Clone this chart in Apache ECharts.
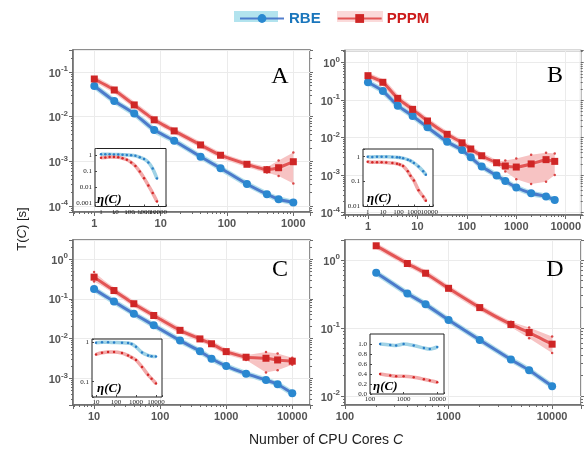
<!DOCTYPE html>
<html><head><meta charset="utf-8">
<script src="https://cdn.jsdelivr.net/npm/echarts@6/dist/echarts.min.js"></script>
<style>html,body{margin:0;padding:0;background:#fff}#c{width:584px;height:452px}</style>
</head><body><div id="c"></div>
<script>
// ---------- Panel A ----------
const A_cores = [1,2,4,8,16,40,80,200,400,600,1000];
const A_rbe   = [0.0487,0.0224,0.0117,0.0050,0.0029,0.00127,0.00070,0.000312,0.000184,0.000142,0.000120];
const A_pppm  = [0.0697,0.0395,0.0183,0.0085,0.0048,0.00233,0.00137,0.00086,0.00065,0.00072,0.00098];
const A_pppmLo= [0.066,0.0375,0.0174,0.0081,0.00456,0.00222,0.0013,0.00081,0.00056,0.00047,0.00032];
const A_pppmHi= [0.073,0.0415,0.0192,0.0089,0.00504,0.00245,0.00144,0.00091,0.00074,0.00105,0.00157];
const A_etaCores = [1,2,4,8,16,32,64,128,256,512,1024,2048,4096,8192];
const A_etaRbe   = [1.1,1.1,1.1,1.08,1.07,1.05,1.0,0.96,0.88,0.72,0.55,0.34,0.14,0.033];
const A_etaPppm  = [0.68,0.70,0.74,0.75,0.72,0.62,0.50,0.34,0.20,0.09,0.035,0.012,0.004,0.0012];
// ---------- Panel B ----------
const B_cores = [1,2,4,8,16,40,80,120,200,400,600,1000,2000,4000,6000];
const B_rbe   = [0.30,0.176,0.0713,0.038,0.019,0.0078,0.0047,0.0030,0.0017,0.00098,0.00070,0.00047,0.00033,0.00027,0.00022];
const B_rbeLo = [0.29,0.17,0.069,0.037,0.0184,0.0076,0.00455,0.0029,0.00165,0.00095,0.00068,0.00045,0.00031,0.00024,0.00019];
const B_rbeHi = [0.31,0.182,0.0736,0.039,0.0196,0.0080,0.00485,0.0031,0.00175,0.00101,0.00072,0.00049,0.00035,0.00031,0.00026];
const B_pppm  = [0.45,0.30,0.112,0.057,0.0279,0.0123,0.0073,0.0050,0.0033,0.00215,0.00176,0.00165,0.0020,0.0026,0.00234];
const B_pppmLo= [0.43,0.285,0.106,0.054,0.0265,0.0117,0.0069,0.00475,0.00314,0.0019,0.00125,0.00078,0.00058,0.00067,0.00102];
const B_pppmHi= [0.47,0.315,0.118,0.060,0.0293,0.0129,0.0077,0.00525,0.00347,0.0023,0.00245,0.0028,0.0035,0.0040,0.0038];
const B_etaRbe  = [1.0,0.98,1.0,1.0,0.99,0.98,0.95,0.92,0.87,0.76,0.68,0.56,0.40,0.26,0.19];
const B_etaPppm = [0.63,0.60,0.60,0.60,0.58,0.56,0.52,0.48,0.42,0.26,0.17,0.11,0.045,0.025,0.017];
// ---------- Panel C ----------
const C_cores = [10,20,40,80,200,400,600,1000,2000,4000,6000,10000];
const C_rbe   = [0.175,0.085,0.042,0.0215,0.0089,0.0048,0.0031,0.00204,0.00131,0.00091,0.00071,0.00042];
const C_pppm  = [0.35,0.161,0.075,0.038,0.0161,0.0098,0.0074,0.0047,0.0034,0.0032,0.0029,0.0027];
const C_pppmLo= [0.27,0.145,0.071,0.036,0.0153,0.0093,0.0070,0.0044,0.0029,0.0014,0.0016,0.0022];
const C_pppmHi= [0.47,0.178,0.079,0.040,0.0169,0.0103,0.0078,0.0050,0.0038,0.0046,0.0042,0.0033];
const C_etaRbe  = [1.0,1.02,1.02,1.01,1.0,0.98,0.93,0.78,0.56,0.47,0.45,0.44];
const C_etaPppm = [0.50,0.55,0.58,0.58,0.54,0.47,0.42,0.36,0.24,0.15,0.12,0.09];
// ---------- Panel D ----------
const D_cores = [200,400,600,1000,2000,4000,6000,10000];
const D_rbe   = [0.65,0.323,0.223,0.131,0.067,0.0345,0.024,0.0140];
const D_pppm  = [1.62,0.89,0.64,0.384,0.20,0.113,0.086,0.058];
const D_pppmLo= [1.56,0.86,0.62,0.37,0.193,0.104,0.071,0.043];
const D_pppmHi= [1.68,0.92,0.66,0.40,0.207,0.124,0.102,0.075];
const D_etaRbe  = [1.0,0.98,0.97,1.0,0.97,0.92,0.90,0.94];
const D_etaPppm = [0.40,0.37,0.356,0.356,0.336,0.296,0.268,0.235];
// ---------- tick labels / texts ----------
const panelLetters = ['A','B','C','D'];
const legendNames = ['RBE','PPPM'];
const yAxisTitle = 'T({i|C}) [s]';
const xAxisTitle = 'Number of CPU Cores {i|C}';
const etaLabel = '\u03b7(C)';

const COL = {
  rbeLine:'#4070c8', rbeMark:'#2a88d0', rbeHalo:'#b4e0ec', rbeDot:'#1f50c8',
  pLine:'#e04848', pMark:'#cf2626', pHalo:'#f8cccc', pBand:'#f7c3c3', pDot:'#d21f1f'
};

const panels = [
  {cores:A_cores, rbe:A_rbe, pppm:A_pppm, lo:A_pppmLo, hi:A_pppmHi,
   x:[0.4775,1784], y:[7.35e-5,0.3105], grid:{left:73,top:50,width:237,height:162},
   letter:[280,77],
   eta:{cores:A_etaCores, rbe:A_etaRbe, pppm:A_etaPppm, x:[0.38,35000], y:[5.75e-4,2.56], log:true,
        grid:{left:95,top:148.5,width:71,height:58}, txt:[97,200]}},
  {cores:B_cores, rbe:B_rbe, pppm:B_pppm, lo:B_pppmLo, hi:B_pppmHi, rlo:B_rbeLo, rhi:B_rbeHi,
   x:[0.343,20100], y:[8.7e-5,2.11], grid:{left:345,top:50.5,width:236,height:164.5},
   letter:[555,76],
   eta:{cores:B_cores, rbe:B_etaRbe, pppm:B_etaPppm, x:[0.495,17400], y:[0.01,2.03], log:true,
        grid:{left:363,top:149,width:70,height:57.5}, txt:[367,199]}},
  {cores:C_cores, rbe:C_rbe, pppm:C_pppm, lo:C_pppmLo, hi:C_pppmHi,
   x:[4.8,18550], y:[2.14e-4,3.0], grid:{left:73,top:240,width:237,height:165},
   letter:[280,270],
   eta:{cores:C_cores, rbe:C_etaRbe, pppm:C_etaPppm, x:[6.3,20000], y:[0.0407,1.24], log:true,
        grid:{left:92,top:339,width:70,height:58}, txt:[97,389]}},
  {cores:D_cores, rbe:D_rbe, pppm:D_pppm, lo:D_pppmLo, hi:D_pppmHi,
   x:[100,19000], y:[0.0074,1.97], grid:{left:345,top:240,width:236,height:165},
   letter:[555,270],
   eta:{cores:D_cores, rbe:D_etaRbe, pppm:D_etaPppm, x:[100,15900], y:[0,1.2], log:false,
        grid:{left:370,top:334,width:74,height:60}, txt:[373,387]}}
];

function isPow10(v){ if(!(v>0)) return false; const e=Math.log10(v); return Math.abs(e-Math.round(e))<1e-6; }
function zip(a,b){ return a.map((v,k)=>[v,b[k]]); }

const labelMain = {fontFamily:'Liberation Sans', fontWeight:'bold', fontSize:11, color:'#555'};
const frameCol = '#6a6a6a';

const grids=[], xAxes=[], yAxes=[], series=[], graphics=[];

panels.forEach((p,i)=>{
  grids.push(Object.assign({show:true, borderColor:frameCol, borderWidth:1.5, backgroundColor:'transparent', z:0}, p.grid));
  xAxes.push({gridIndex:i, type:'log', logBase:10, min:p.x[0], max:p.x[1],
    axisLine:{show:true, lineStyle:{color:frameCol, width:1.5}},
    axisTick:{show:true, inside:false, length:4, lineStyle:{color:frameCol}},
    minorTick:{show:true, splitNumber:9, length:2, lineStyle:{color:frameCol}},
    axisLabel:Object.assign({margin:6, formatter:v=>isPow10(v)?String(Math.round(v)):''}, labelMain),
    splitLine:{show:true, lineStyle:{color:'#ebebeb', width:1}}});
  yAxes.push({gridIndex:i, type:'log', logBase:10, min:p.y[0], max:p.y[1], position:'left',
    axisLine:{show:true, lineStyle:{color:frameCol, width:1.5}},
    axisTick:{show:true, inside:false, length:4, lineStyle:{color:frameCol}},
    minorTick:{show:true, splitNumber:9, length:2, lineStyle:{color:frameCol}},
    axisLabel:{margin:5, formatter:v=>isPow10(v)?('{b|10}{s|'+Math.round(Math.log10(v))+'}'):'',
      rich:{b:Object.assign({lineHeight:14, verticalAlign:'bottom'}, labelMain),
            s:Object.assign({}, labelMain, {fontSize:8, lineHeight:8, verticalAlign:'top'})}},
    splitLine:{show:true, lineStyle:{color:'#ebebeb', width:1}}});
  yAxes.push({gridIndex:i, type:'log', logBase:10, min:p.y[0], max:p.y[1], position:'right',
    axisLine:{show:false}, axisLabel:{show:false}, splitLine:{show:false},
    axisTick:{show:true, inside:false, length:3, lineStyle:{color:frameCol}},
    minorTick:{show:true, splitNumber:9, length:2, lineStyle:{color:frameCol}}});
});

panels.forEach((p,i)=>{
  const e=p.eta, gi=4+i;
  grids.push(Object.assign({show:true, borderColor:'#222', borderWidth:1, backgroundColor:'#fff', z:3}, e.grid));
  const il = {fontFamily:'Liberation Serif', fontSize:7, color:'#222'};
  xAxes.push({gridIndex:gi, type:'log', logBase:10, min:e.x[0], max:e.x[1], z:3,
    axisLine:{show:false}, axisTick:{show:true, inside:true, length:2, lineStyle:{color:'#444'}},
    axisLabel:Object.assign({margin:2, formatter:v=>isPow10(v)?String(Math.round(v)):''}, il),
    splitLine:{show:false}});
  if(e.log){
    yAxes.push({gridIndex:gi, type:'log', logBase:10, min:e.y[0], max:e.y[1], z:3,
      axisLine:{show:false}, axisTick:{show:true, inside:true, length:2, lineStyle:{color:'#444'}},
      axisLabel:Object.assign({margin:3, formatter:v=>isPow10(v)?(v>=1?String(Math.round(v)):String(+v.toPrecision(1))):''}, il),
      splitLine:{show:false}});
  } else {
    yAxes.push({gridIndex:gi, type:'value', min:e.y[0], max:e.y[1], interval:0.2, z:3,
      axisLine:{show:false}, axisTick:{show:true, inside:true, length:2, lineStyle:{color:'#444'}},
      axisLabel:Object.assign({margin:3, showMaxLabel:false, formatter:v=>v.toFixed(1)}, il),
      splitLine:{show:false}});
  }
});

function bandSeries(xi, yi, cores, lo, hi, color, z){
  return {type:'custom', xAxisIndex:xi, yAxisIndex:yi, z:z, silent:true, data:[[cores[0], lo[0]]],
    renderItem:(params, api)=>{
      const up = hi.map((v,k)=>api.coord([cores[k], v]));
      const dn = lo.map((v,k)=>api.coord([cores[k], v])).reverse();
      return {type:'polygon', shape:{points:up.concat(dn)}, style:{fill:color}};
    }};
}

panels.forEach((p,i)=>{
  const xi=i, yi=2*i;
  series.push(bandSeries(xi, yi, p.cores, p.lo, p.hi, COL.pBand, 1));
  if(p.rlo) series.push(bandSeries(xi, yi, p.cores, p.rlo, p.rhi, COL.rbeHalo, 1));
  series.push({name:'RBE', type:'line', xAxisIndex:xi, yAxisIndex:yi, data:zip(p.cores,p.rbe), z:4,
    smooth:0.15, symbol:'circle', symbolSize:8,
    lineStyle:{color:COL.rbeLine, width:3, opacity:0.9}, itemStyle:{color:COL.rbeMark}});
  series.push({name:'PPPM', type:'line', xAxisIndex:xi, yAxisIndex:yi, data:zip(p.cores,p.pppm), z:4,
    smooth:0.15, symbol:'rect', symbolSize:7,
    lineStyle:{color:COL.pLine, width:3, opacity:0.9}, itemStyle:{color:COL.pMark}});
  series.push({name:'rbe-halo', type:'line', xAxisIndex:xi, yAxisIndex:yi, data:zip(p.cores,p.rbe), z:2,
    smooth:0.15, symbol:'none', lineStyle:{color:COL.rbeHalo, width:5.5}, silent:true});
  series.push({name:'pppm-halo', type:'line', xAxisIndex:xi, yAxisIndex:yi, data:zip(p.cores,p.pppm), z:2,
    smooth:0.15, symbol:'none', lineStyle:{color:COL.pHalo, width:5.5}, silent:true});
  series.push({name:'pppm-edges', type:'scatter', xAxisIndex:xi, yAxisIndex:yi, z:3, symbolSize:2.5,
    data:zip(p.cores,p.lo).concat(zip(p.cores,p.hi)), itemStyle:{color:COL.pDot}, silent:true});
  // inset
  const e=p.eta, gx=4+i, gy=8+i;
  series.push({name:'eta-rbe', type:'line', xAxisIndex:gx, yAxisIndex:gy, data:zip(e.cores,e.rbe), z:5,
    smooth:0.3, symbol:'circle', symbolSize:2.5, lineStyle:{color:'#9fd2e6', width:3.5},
    itemStyle:{color:'#2a7fc8'}, silent:true});
  series.push({name:'eta-pppm', type:'line', xAxisIndex:gx, yAxisIndex:gy, data:zip(e.cores,e.pppm), z:5,
    smooth:0.3, symbol:'circle', symbolSize:2.5, lineStyle:{color:'#f2a9a9', width:3.5},
    itemStyle:{color:'#d42727'}, silent:true});
  graphics.push({type:'text', x:p.letter[0], y:p.letter[1], z:10,
    style:{text:panelLetters[i], fontFamily:'Liberation Serif', fontSize:24, fill:'#000', align:'center', verticalAlign:'middle'}});
  graphics.push({type:'text', x:e.txt[0], y:e.txt[1], z:10,
    style:{text:etaLabel, fontFamily:'Liberation Serif', fontWeight:'bold', fontStyle:'italic', fontSize:13, fill:'#000', align:'left', verticalAlign:'middle'}});
});

// legend backgrounds
graphics.push({type:'rect', shape:{x:234, y:11, width:44, height:11}, style:{fill:'#b2e3ee'}, z:-1});
graphics.push({type:'rect', shape:{x:337, y:11, width:46, height:11}, style:{fill:'#fbdada'}, z:-1});
// axis titles
graphics.push({type:'text', x:22, y:229, rotation:Math.PI/2, z:10,
  style:{text:yAxisTitle, fontFamily:'Liberation Sans', fontSize:13, fill:'#222', align:'center', verticalAlign:'middle',
    rich:{i:{fontStyle:'italic', fontFamily:'Liberation Sans', fontSize:13, fill:'#222'}}}});
graphics.push({type:'text', x:326, y:440, z:10,
  style:{text:xAxisTitle, fontFamily:'Liberation Sans', fontSize:14, fill:'#222', align:'center', verticalAlign:'middle',
    rich:{i:{fontStyle:'italic', fontFamily:'Liberation Sans', fontSize:14, fill:'#222'}}}});

const option = {
  animation:false,
  backgroundColor:'#fff',
  legend:{left:234, top:6, itemWidth:44, itemHeight:11, itemGap:16,
    data:[{name:legendNames[0], textStyle:{color:'#1a76bc'}},{name:legendNames[1], textStyle:{color:'#cc1a1a'}}],
    textStyle:{fontFamily:'Liberation Sans', fontWeight:'bold', fontSize:15}},
  grid:grids, xAxis:xAxes, yAxis:yAxes, series:series, graphic:graphics
};
const chart = echarts.init(document.getElementById('c'));
chart.setOption(option);
</script></body></html>
